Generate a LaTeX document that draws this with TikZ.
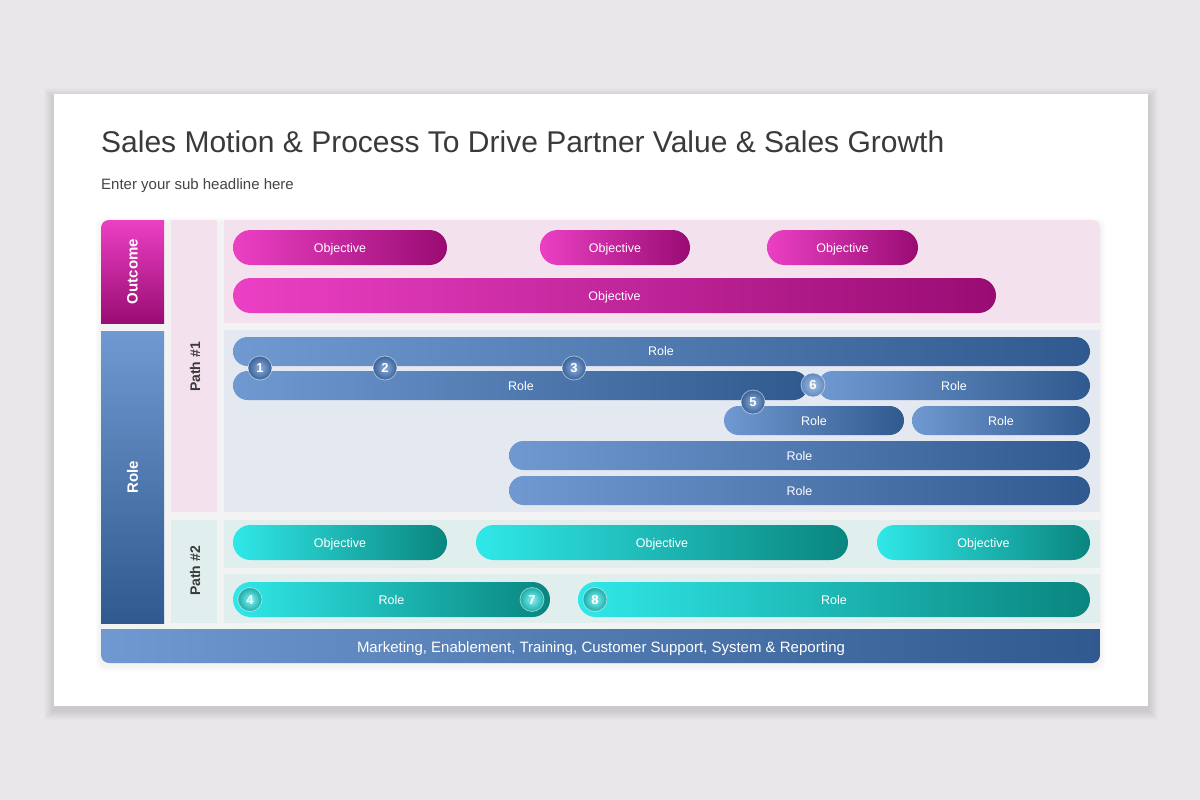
\documentclass[tikz,border=0pt]{standalone}
\usepackage{fontspec}
\setmainfont{Liberation Sans}
\definecolor{pagebg}{HTML}{E9E7E9}
\definecolor{titlecol}{HTML}{3A3A3A}
\definecolor{subcol}{HTML}{444444}
\definecolor{pinkbg}{HTML}{F3E1EE}
\definecolor{bluebg}{HTML}{E4E9F1}
\definecolor{tealbg}{HTML}{E0EEEE}
\definecolor{magL}{HTML}{EB40C4}
\definecolor{magD}{HTML}{990C73}
\definecolor{bluL}{HTML}{7099D1}
\definecolor{bluD}{HTML}{30598F}
\definecolor{teaL}{HTML}{30E8E8}
\definecolor{teaD}{HTML}{0A857F}
\tikzset{
  pilltext/.style={text=white, font=\fontsize{12.5}{14}\selectfont, inner sep=0pt, text height=9pt, text depth=0pt},
  mpill/.style={pilltext, rounded corners=17.5pt, minimum height=35pt, minimum width=#1, left color=magL, right color=magD},
  bpill/.style={pilltext, rounded corners=14.5pt, minimum height=29pt, minimum width=#1, left color=bluL, right color=bluD},
  tpill/.style={pilltext, rounded corners=17.5pt, minimum height=35pt, minimum width=#1, left color=teaL, right color=teaD},
  ball/.style={circle, minimum size=24pt, inner sep=0pt, draw=white, draw opacity=0.5, line width=0.8pt,
     text=white, font=\bfseries\fontsize{13}{13}\selectfont, text height=9.5pt, text depth=0pt},
  bball/.style={ball, inner color=bluL!80!white, outer color=bluD!85!bluL},
  lball/.style={ball, inner color=bluL!65!white, outer color=bluL!75!bluD},
  tball/.style={ball, inner color=teaL!55!white, outer color=teaD!60!teaL},
  vlabel/.style={rotate=90, text=white, font=\bfseries\fontsize{15}{15}\selectfont},
  plabel/.style={rotate=90, text=titlecol, font=\bfseries\fontsize{14}{14}\selectfont},
}
\begin{document}
\begin{tikzpicture}[x=1pt,y=-1pt]
\useasboundingbox (0,0) rectangle (1200,800);
\fill[pagebg] (0,0) rectangle (1200,800);
% soft card shadow
\foreach \i in {1,...,10} {
  \fill[black, fill opacity=0.012] (54-\i,94-\i+4) rectangle (1148+\i,706+\i+4);
}
% card
\fill[white] (54,94) rectangle (1148,706);
% title
\node[anchor=base west, inner sep=0pt, text=titlecol, font=\fontsize{30}{32}\selectfont] (title) at (101,152) {Sales Motion \& Process To Drive Partner Value \& Sales Growth};
\node[anchor=base west, inner sep=0pt, text=subcol, font=\fontsize{15}{17}\selectfont] (sub) at (101,189) {Enter your sub headline here};
% soft shadow under the board
\foreach \i in {1,...,6} {
  \fill[black, fill opacity=0.008, rounded corners=8pt] (101-\i,220-\i+3) rectangle (1100+\i,663+\i+3);
}
% left column
\begin{scope}
\clip[rounded corners=8pt] (101,220) rectangle (220,400);
\shade[top color=magL, bottom color=magD] (101,220) rectangle (164,323);
\end{scope}
\shade[top color=bluL, bottom color=bluD] (101,331) rectangle (164,623);
\node[vlabel] (outc) at (132.5,271.5) {Outcome};
\node[vlabel] (rolel) at (132.5,477) {Role};
% path column
\fill[pinkbg] (171,220) rectangle (217,512);
\fill[tealbg] (171,520) rectangle (217,623);
\node[plabel] (p1) at (195,367) {Path \#1};
\node[plabel] (p2) at (195,571) {Path \#2};
% areas
\begin{scope}
\clip[rounded corners=8pt] (150,220) rectangle (1100,400);
\fill[pinkbg] (224,220) rectangle (1100,323);
\end{scope}
\fill[bluebg] (224,330) rectangle (1100,512);
\fill[tealbg] (224,520) rectangle (1100,568);
\fill[tealbg] (224,574) rectangle (1100,623);
% bottom bar
\begin{scope}
\clip[rounded corners=8pt] (101,580) rectangle (1100,663);
\shade[left color=bluL, right color=bluD] (101,629) rectangle (1100,663);
\end{scope}
\node[text=white, font=\fontsize{15}{17}\selectfont, inner sep=0pt, text height=11pt, text depth=0pt] (bar) at (601,647) {Marketing,\ Enablement,\ Training,\ Customer\ Support,\ System \& Reporting};
% outcome pills
\node[mpill=214pt] (o1) at (340,247.5) {Objective};
\node[mpill=150pt] (o2) at (615,247.5) {Objective};
\node[mpill=151pt] (o3) at (842.5,247.5) {Objective};
\node[mpill=763pt] (o4) at (614.5,295.5) {Objective};
% path 1 roles
\node[bpill=857pt] (r1) at (661.5,351.5) {};
\node[pilltext] (r1t) at (661,351) {Role};
\node[bpill=575pt] (r2a) at (520.5,385.5) {};
\node[pilltext] (r2at) at (521,385.5) {Role};
\node[bpill=272pt] (r2b) at (954,385.5) {Role};
\node[bpill=180pt] (r3a) at (814,420.5) {Role};
\node[bpill=178pt] (r3b) at (1001,420.5) {Role};
\node[bpill=581pt] (r4) at (799.5,455.5) {Role};
\node[bpill=581pt] (r5) at (799.5,490.5) {Role};
% numbered balls path 1
\node[bball] (n1) at (260,368) {1};
\node[bball] (n2) at (385,368) {2};
\node[bball] (n3) at (574,368) {3};
\node[bball] (n5) at (753,402) {5};
\node[lball] (n6) at (813,385) {6};
% path 2
\node[tpill=214pt] (t1) at (340,542.5) {Objective};
\node[tpill=372pt] (t2) at (662,542.5) {Objective};
\node[tpill=213pt] (t3) at (983.5,542.5) {Objective};
\node[tpill=317pt] (t4) at (391.5,599.5) {Role};
\node[tpill=512pt] (t5) at (834,599.5) {Role};
\node[tball] (n4) at (250,599.5) {4};
\node[tball] (n7) at (532,599.5) {7};
\node[tball] (n8) at (595,599.5) {8};
\end{tikzpicture}
\end{document}
